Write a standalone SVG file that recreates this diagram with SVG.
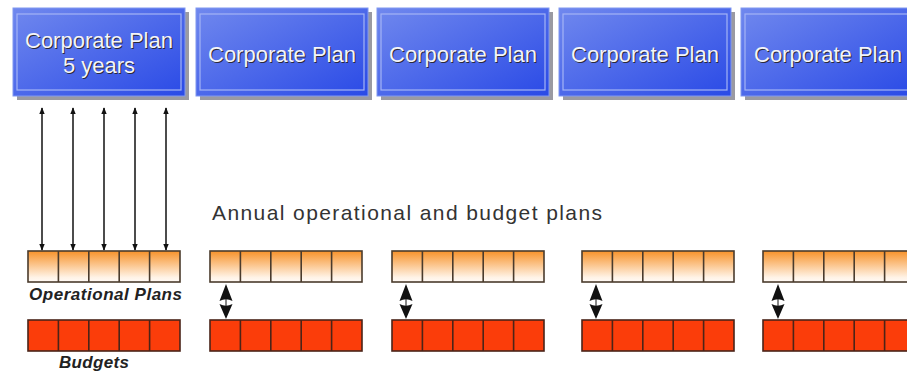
<svg xmlns="http://www.w3.org/2000/svg" width="907" height="371" viewBox="0 0 907 371">
<defs>
<linearGradient id="gBlue" x1="0" y1="0" x2="1" y2="1">
<stop offset="0" stop-color="#7088ee"/>
<stop offset="1" stop-color="#2a4ae6"/>
</linearGradient>
<linearGradient id="gOrange" x1="0" y1="0" x2="0" y2="1">
<stop offset="0" stop-color="#f7922a"/>
<stop offset="0.85" stop-color="#fff3e6"/>
<stop offset="1" stop-color="#fffaf5"/>
</linearGradient>
<marker id="ah" viewBox="0 0 10 10" refX="9" refY="5" markerWidth="7" markerHeight="7" orient="auto-start-reverse" markerUnits="userSpaceOnUse">
<path d="M0,1 L10,5 L0,9 Z" fill="#111"/>
</marker>
<g id="opRow">
<rect x="0" y="0" width="152" height="31" fill="url(#gOrange)" stroke="#4a3b2c" stroke-width="1.6"/>
<path d="M30.4,0 V31 M60.8,0 V31 M91.2,0 V31 M121.6,0 V31" stroke="#4a3b2c" stroke-width="1.6" fill="none"/>
</g>
<g id="budRow">
<rect x="0" y="0" width="152" height="31" fill="#fb3d0a" stroke="#4a2418" stroke-width="1.6"/>
<path d="M30.4,0 V31 M60.8,0 V31 M91.2,0 V31 M121.6,0 V31" stroke="#4a2418" stroke-width="1.6" fill="none"/>
</g>
<g id="dbl">
<path d="M0,284 L6.5,301 Q0,297.5 -6.5,301 Z" fill="#111"/>
<path d="M0,319 L6.5,304 Q0,307.5 -6.5,304 Z" fill="#111"/>
<line x1="0" y1="296" x2="0" y2="308" stroke="#111" stroke-width="1"/>
</g>
</defs>
<style>
.shadow{fill:#9a9aa2}
.box{fill:url(#gBlue);stroke:#8098f0;stroke-width:1}
.inner{fill:none;stroke:#a4b4f6;stroke-width:1.2}
.ct{font-family:"Liberation Sans",Arial,sans-serif;font-size:22px;fill:#f4f4f8;text-anchor:middle}
.cts{font-family:"Liberation Sans",Arial,sans-serif;font-size:22px;fill:#2a2a3a;text-anchor:middle}
.lbl{font-family:"Liberation Sans",Arial,sans-serif;font-size:17px;font-weight:bold;font-style:italic;fill:#222}
.ann{font-family:"Liberation Sans",Arial,sans-serif;font-size:21px;fill:#333}
.conn{stroke:#111;stroke-width:1.5;fill:none}
</style>
<rect width="907" height="371" fill="#ffffff"/>

<g id="corp1">
<rect class="shadow" x="17" y="12" width="172" height="88"/>
<rect class="box" x="13" y="8" width="172" height="88"/>
<rect class="inner" x="17" y="14" width="164" height="76"/>
<text class="cts" x="100" y="49">Corporate Plan</text>
<text class="ct" x="99" y="48">Corporate Plan</text>
<text class="cts" x="100" y="74">5 years</text>
<text class="ct" x="99" y="73">5 years</text>
</g>
<g id="corp2">
<rect class="shadow" x="200" y="12" width="172" height="88"/>
<rect class="box" x="196" y="8" width="172" height="88"/>
<rect class="inner" x="200" y="14" width="164" height="76"/>
<text class="cts" x="283" y="63">Corporate Plan</text>
<text class="ct" x="282" y="62">Corporate Plan</text>
</g>
<g id="corp3">
<rect class="shadow" x="381" y="12" width="172" height="88"/>
<rect class="box" x="377" y="8" width="172" height="88"/>
<rect class="inner" x="381" y="14" width="164" height="76"/>
<text class="cts" x="464" y="63">Corporate Plan</text>
<text class="ct" x="463" y="62">Corporate Plan</text>
</g>
<g id="corp4">
<rect class="shadow" x="563" y="12" width="172" height="88"/>
<rect class="box" x="559" y="8" width="172" height="88"/>
<rect class="inner" x="563" y="14" width="164" height="76"/>
<text class="cts" x="646" y="63">Corporate Plan</text>
<text class="ct" x="645" y="62">Corporate Plan</text>
</g>
<g id="corp5">
<rect class="shadow" x="745" y="12" width="172" height="88"/>
<rect class="box" x="741" y="8" width="172" height="88"/>
<rect class="inner" x="745" y="14" width="164" height="76"/>
<text class="cts" x="829" y="63">Corporate Plan</text>
<text class="ct" x="828" y="62">Corporate Plan</text>
</g>

<g id="annual">
<text class="ann" x="212" y="220" textLength="390" lengthAdjust="spacing">Annual operational and budget plans</text>
</g>

<g id="ops1"><use href="#opRow" x="28" y="251"/></g>
<g id="ops2"><use href="#opRow" x="210" y="251"/></g>
<g id="ops3"><use href="#opRow" x="392" y="251"/></g>
<g id="ops4"><use href="#opRow" x="582" y="251"/></g>
<g id="ops5"><use href="#opRow" x="763" y="251"/></g>

<g id="bud1"><use href="#budRow" x="28" y="320"/></g>
<g id="bud2"><use href="#budRow" x="210" y="320"/></g>
<g id="bud3"><use href="#budRow" x="392" y="320"/></g>
<g id="bud4"><use href="#budRow" x="582" y="320"/></g>
<g id="bud5"><use href="#budRow" x="763" y="320"/></g>

<g id="labels">
<text class="lbl" x="29" y="300" textLength="153" lengthAdjust="spacing">Operational Plans</text>
<text class="lbl" x="59" y="368" textLength="70" lengthAdjust="spacing">Budgets</text>
</g>

<g id="connectors">
<line class="conn" x1="42" y1="108" x2="42" y2="250" marker-start="url(#ah)" marker-end="url(#ah)"/>
<line class="conn" x1="73" y1="108" x2="73" y2="250" marker-start="url(#ah)" marker-end="url(#ah)"/>
<line class="conn" x1="104" y1="108" x2="104" y2="250" marker-start="url(#ah)" marker-end="url(#ah)"/>
<line class="conn" x1="135" y1="108" x2="135" y2="250" marker-start="url(#ah)" marker-end="url(#ah)"/>
<line class="conn" x1="166" y1="108" x2="166" y2="250" marker-start="url(#ah)" marker-end="url(#ah)"/>
<use href="#dbl" x="226" y="0"/>
<use href="#dbl" x="406" y="0"/>
<use href="#dbl" x="596" y="0"/>
<use href="#dbl" x="778" y="0"/>
</g>
</svg>
